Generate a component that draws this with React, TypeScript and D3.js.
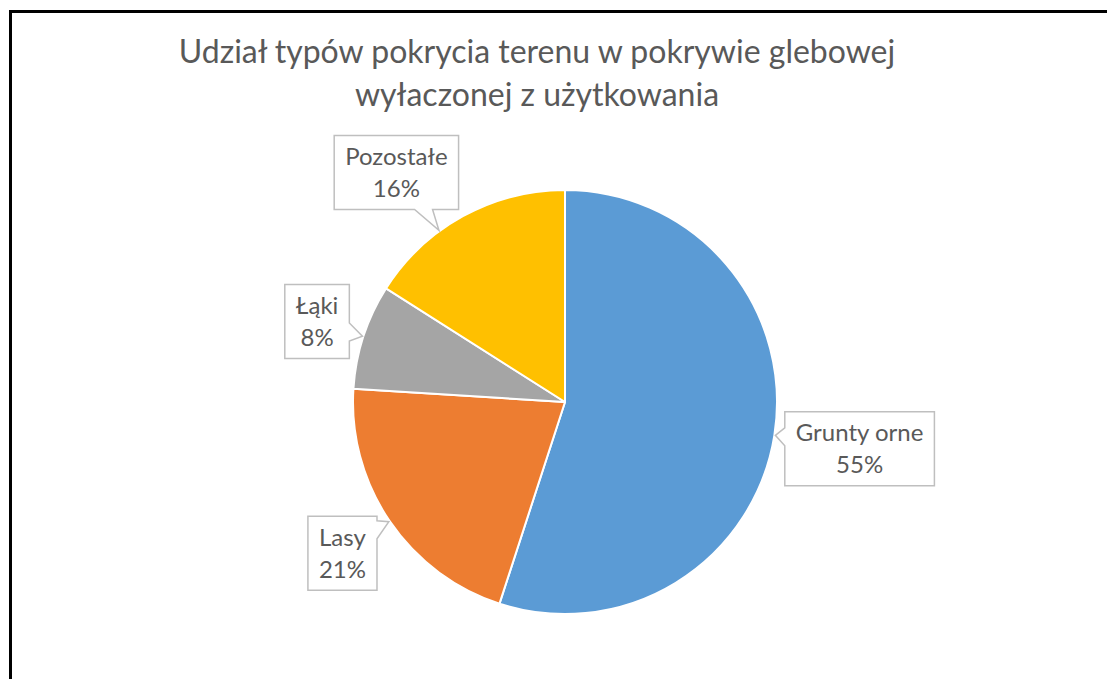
import React, { useEffect, useRef } from "react";
import * as d3 from "d3";

const categories = ["Grunty orne", "Lasy", "Łąki", "Pozostałe"];
const values = [55, 21, 8, 16];
const percentLabels = ["55%", "21%", "8%", "16%"];
const colors = ["#5B9BD5", "#ED7D31", "#A5A5A5", "#FFC000"];
const titleLines = [
  "Udział typów pokrycia terenu w pokrywie glebowej",
  "wyłaczonej z użytkowania",
];
// layout: small angular nudges (degrees) for label placement
const labelAngleNudge = [0, 0, 0, -7.5];

const W = 1107;
const H = 679;
const CX = 565;
const CY = 402;
const R = 212;
const FONT = "Lato, 'Open Sans', sans-serif";
const TEXT_COLOR = "#595959";

export default function App() {
  const ref = useRef<SVGSVGElement | null>(null);

  useEffect(() => {
    const svg = d3.select(ref.current);
    svg.selectAll("*").remove();

    svg.append("rect").attr("x", 0).attr("y", 0).attr("width", W).attr("height", H).attr("fill", "#fff");

    // frame
    svg.append("line").attr("x1", 10).attr("x2", W).attr("y1", 11.5).attr("y2", 11.5).attr("stroke", "#000").attr("stroke-width", 3);
    svg.append("line").attr("x1", 10.5).attr("x2", 10.5).attr("y1", 10).attr("y2", H).attr("stroke", "#000").attr("stroke-width", 3);

    // title
    const title = svg.append("g");
    const titleYs = [63, 106];
    titleLines.forEach((t, i) => {
      title
        .append("text")
        .attr("x", 537)
        .attr("y", titleYs[i])
        .attr("text-anchor", "middle")
        .attr("font-family", FONT)
        .attr("font-size", 32)
        .attr("fill", TEXT_COLOR)
        .text(t);
    });

    const pie = d3.pie<number>().sort(null).value((d) => d)(values);
    const arc = d3.arc<d3.PieArcDatum<number>>().innerRadius(0).outerRadius(R);

    const g = svg.append("g").attr("transform", `translate(${CX},${CY})`);
    g.selectAll("path.slice")
      .data(pie)
      .join("path")
      .attr("class", "slice")
      .attr("d", arc as any)
      .attr("fill", (_, i) => colors[i])
      .attr("stroke", "#fff")
      .attr("stroke-width", 2)
      .attr("stroke-linejoin", "round");

    // labels (callouts)
    const FS = 24;
    const LINE = 32;
    const PADX = 11;
    const PADY = 11;
    const GAP = 8;
    const lg = svg.append("g");

    pie.forEach((p, i) => {
      const grp = lg.append("g");
      const t1 = grp
        .append("text")
        .attr("font-family", FONT)
        .attr("font-size", FS)
        .attr("fill", TEXT_COLOR)
        .attr("text-anchor", "middle")
        .text(categories[i]);
      const t2 = grp
        .append("text")
        .attr("font-family", FONT)
        .attr("font-size", FS)
        .attr("fill", TEXT_COLOR)
        .attr("text-anchor", "middle")
        .text(percentLabels[i]);
      const w1 = (t1.node() as SVGTextElement).getComputedTextLength();
      const w2 = (t2.node() as SVGTextElement).getComputedTextLength();
      const bw = Math.max(w1, w2) + 2 * PADX;
      const bh = LINE * 2 + 2 * PADY - 12;
      const mid = (p.startAngle + p.endAngle) / 2 + (labelAngleNudge[i] * Math.PI) / 180;
      const dx = Math.sin(mid);
      const dy = -Math.cos(mid);
      const distToBox = (d: number) => {
        const bx = CX + dx * d;
        const by = CY + dy * d;
        const nx = Math.max(bx - bw / 2, Math.min(CX, bx + bw / 2));
        const ny = Math.max(by - bh / 2, Math.min(CY, by + bh / 2));
        return Math.hypot(nx - CX, ny - CY);
      };
      let lo = 0,
        hi = 600;
      for (let k = 0; k < 50; k++) {
        const m = (lo + hi) / 2;
        if (distToBox(m) < R + GAP) lo = m;
        else hi = m;
      }
      const bx = CX + dx * hi;
      const by = CY + dy * hi;
      const x0 = bx - bw / 2,
        x1 = bx + bw / 2,
        y0 = by - bh / 2,
        y1 = by + bh / 2;

      const vx = bx - CX,
        vy = by - CY;
      const vl = Math.hypot(vx, vy);
      const ax = CX + (vx / vl) * (R + 1);
      const ay = CY + (vy / vl) * (R + 1);

      const ux = ax - bx,
        uy = ay - by;
      const tx = ux !== 0 ? (ux > 0 ? (x1 - bx) / ux : (x0 - bx) / ux) : Infinity;
      const ty = uy !== 0 ? (uy > 0 ? (y1 - by) / uy : (y0 - by) / uy) : Infinity;
      const half = 9;
      let path = "";
      if (tx < ty) {
        const iy = by + uy * tx;
        const ex = ux > 0 ? x1 : x0;
        const a = Math.max(y0 + 1, iy - half);
        const b = Math.min(y1 - 1, iy + half);
        if (ux > 0) {
          path = `M${x0},${y0}L${x1},${y0}L${ex},${a}L${ax},${ay}L${ex},${b}L${x1},${y1}L${x0},${y1}Z`;
        } else {
          path = `M${x0},${y0}L${x1},${y0}L${x1},${y1}L${x0},${y1}L${ex},${b}L${ax},${ay}L${ex},${a}Z`;
        }
      } else {
        const ix = bx + ux * ty;
        const ey = uy > 0 ? y1 : y0;
        const a = Math.max(x0 + 1, ix - half);
        const b = Math.min(x1 - 1, ix + half);
        if (uy > 0) {
          path = `M${x0},${y0}L${x1},${y0}L${x1},${y1}L${b},${ey}L${ax},${ay}L${a},${ey}L${x0},${y1}Z`;
        } else {
          path = `M${x0},${y0}L${a},${ey}L${ax},${ay}L${b},${ey}L${x1},${y0}L${x1},${y1}L${x0},${y1}Z`;
        }
      }
      grp
        .insert("path", "text")
        .attr("d", path)
        .attr("fill", "#fff")
        .attr("stroke", "#BFBFBF")
        .attr("stroke-width", 1.5);

      t1.attr("x", bx).attr("y", by - LINE / 2).attr("dy", "0.35em");
      t2.attr("x", bx).attr("y", by + LINE / 2).attr("dy", "0.35em");
    });
  }, []);

  return (
    <svg
      ref={ref}
      width={W}
      height={H}
      style={{ position: "absolute", left: 0, top: 0, display: "block" }}
    />
  );
}
